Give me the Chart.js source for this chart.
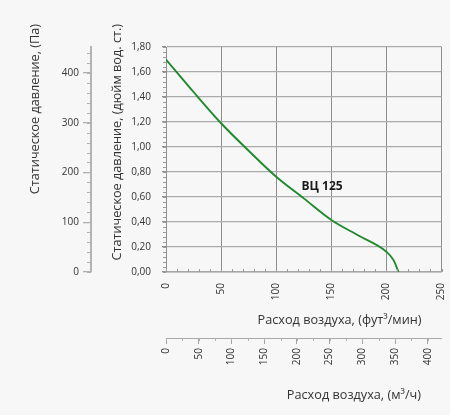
<!DOCTYPE html>
<html><head><meta charset="utf-8">
<script src="https://cdn.jsdelivr.net/npm/chart.js@4.4.1/dist/chart.umd.min.js"></script>
<style>html,body{margin:0;padding:0;background:#f7f7f7;} #wrap{width:450px;height:415px;position:relative;}</style>
</head><body><div id="wrap"><canvas id="c"></canvas></div>
<script>
// ---- data ----
const flowCfm      = [0, 25, 50, 75, 100, 125, 150, 175, 200, 206.5, 211];
const pressureInWc = [1.70, 1.44, 1.19, 0.97, 0.762, 0.589, 0.416, 0.29, 0.162, 0.095, 0.0];
const seriesName = 'ВЦ 125';
const seriesLabelAt = { x: 123, y: 0.68 };

// axis ranges and tick values
const cfmRange  = [0, 250];
const m3hRange  = [0, 421];
const inchRange = [0, 1.8];
const paRange   = [0, 452];
const cfmTicks  = [0, 50, 100, 150, 200, 250];
const m3hTicks  = [0, 50, 100, 150, 200, 250, 300, 350, 400];
const inchTicks = [0, 0.2, 0.4, 0.6, 0.8, 1.0, 1.2, 1.4, 1.6, 1.8];
const paTicks   = [0, 100, 200, 300, 400];
const cfmMinorStep = 10, m3hMinorStep = 25, inchMinorStep = 0.04, paMinorStep = 20;

const xTitle  = 'Расход воздуха, (фут³/мин)';
const x2Title = 'Расход воздуха, (м³/ч)';
const yTitle  = 'Статическое давление, (дюйм вод. ст.)';
const y2Title = 'Статическое давление, (Па)';

const FONT = '"Open Sans", "Noto Sans", sans-serif';
const TXT = '#333333';

function fixTicks(arr){ return s => { s.ticks = arr.map(v => ({ value: v })); }; }
function fixSize(dim, val){ return s => { s[dim] = val; s.paddingLeft = 0; s.paddingRight = 0; s.paddingTop = 0; s.paddingBottom = 0; }; }

const decor = {
  id: 'decor',
  beforeDraw(chart){
    const ctx = chart.ctx; ctx.save();
    ctx.fillStyle = '#f7f7f7'; ctx.fillRect(0, 0, chart.width, chart.height);
    ctx.restore();
  },
  afterDraw(chart){
    const { ctx, scales: { x, x2, y, y2 }, chartArea: ca } = chart;
    ctx.save();
    ctx.lineWidth = 1;
    // minor ticks
    ctx.strokeStyle = '#9a9a9a';
    ctx.beginPath();
    for (let v = cfmRange[0]; v <= cfmRange[1] + 1e-9; v += cfmMinorStep){
      const px = Math.round(x.getPixelForValue(v)) + 0.5;
      ctx.moveTo(px, ca.bottom); ctx.lineTo(px, ca.bottom - 3);
    }
    for (let v = inchRange[0]; v <= inchRange[1] + 1e-9; v += inchMinorStep){
      const py = Math.round(y.getPixelForValue(v)) + 0.5;
      ctx.moveTo(ca.left, py); ctx.lineTo(ca.left - 3, py);
    }
    ctx.stroke();
    ctx.strokeStyle = '#b0b0b0';
    ctx.beginPath();
    for (let v = m3hRange[0]; v <= m3hRange[1] + 1e-9; v += m3hMinorStep){
      const px = Math.round(x2.getPixelForValue(v)) + 0.5;
      ctx.moveTo(px, x2.top); ctx.lineTo(px, x2.top + 3);
    }
    for (let v = paRange[0]; v <= paRange[1] + 1e-9; v += paMinorStep){
      const py = Math.round(y2.getPixelForValue(v)) + 0.5;
      ctx.moveTo(y2.right, py); ctx.lineTo(y2.right - 4, py);
    }
    ctx.stroke();

    // axis titles
    ctx.fillStyle = TXT;
    ctx.font = '12.7px ' + FONT;
    ctx.textBaseline = 'middle';
    ctx.textAlign = 'right';
    ctx.fillText(xTitle, 421.5, 320);
    ctx.fillText(x2Title, 421, 395);
    ctx.save(); ctx.translate(35, 24); ctx.rotate(-Math.PI / 2); ctx.fillText(y2Title, 0, 0); ctx.restore();
    ctx.save(); ctx.translate(117, 24); ctx.rotate(-Math.PI / 2); ctx.fillText(yTitle, 0, 0); ctx.restore();

    // series label
    ctx.font = 'bold 12px ' + FONT;
    ctx.fillStyle = '#1a1a1a';
    ctx.textAlign = 'left';
    ctx.fillText(seriesName, x.getPixelForValue(seriesLabelAt.x), y.getPixelForValue(seriesLabelAt.y));
    ctx.restore();
  }
};

new Chart(document.getElementById('c'), {
  type: 'line',
  data: {
    datasets: [{
      label: seriesName,
      data: flowCfm.map((f, i) => ({ x: f, y: pressureInWc[i] })),
      borderColor: '#1f8a2e',
      borderWidth: 1.9,
      pointRadius: 0,
      fill: false,
      cubicInterpolationMode: 'monotone',
      xAxisID: 'x', yAxisID: 'y'
    }]
  },
  options: {
    responsive: true,
    maintainAspectRatio: false,
    animation: false,
    events: [],
    layout: { padding: { top: 47, right: 8.5, bottom: 0, left: 0 } },
    plugins: { legend: { display: false }, tooltip: { enabled: false }, title: { display: false } },
    scales: {
      x: {
        type: 'linear', position: 'bottom', weight: 0,
        min: cfmRange[0], max: cfmRange[1],
        afterBuildTicks: fixTicks(cfmTicks),
        afterFit: fixSize('height', 66),
        ticks: { minRotation: 90, maxRotation: 90, padding: 11, autoSkip: false, color: TXT, font: { family: FONT, size: 10 } },
        grid: { color: '#8e8e8e', lineWidth: 1, drawTicks: false },
        border: { color: '#a8a8a8', width: 1.5 }
      },
      x2: {
        type: 'linear', position: 'bottom', weight: 1,
        min: m3hRange[0], max: m3hRange[1],
        afterBuildTicks: fixTicks(m3hTicks),
        afterFit: fixSize('height', 77),
        ticks: { minRotation: 90, maxRotation: 90, padding: 4, autoSkip: false, color: TXT, font: { family: FONT, size: 10 } },
        grid: { drawOnChartArea: false, drawTicks: true, tickLength: 6, color: '#a0a0a0', lineWidth: 1 },
        border: { color: '#a8a8a8', width: 1 }
      },
      y: {
        type: 'linear', position: 'left', weight: 0,
        min: inchRange[0], max: inchRange[1],
        afterBuildTicks: fixTicks(inchTicks),
        afterFit: fixSize('width', 75),
        ticks: { padding: 11, autoSkip: false, color: TXT, font: { family: FONT, size: 10 },
                 callback: v => Number(v).toFixed(2).replace('.', ',') },
        grid: { color: '#ababab', lineWidth: 1.3, tickLength: 4, tickColor: '#909090' },
        border: { color: '#909090', width: 1 }
      },
      y2: {
        type: 'linear', position: 'left', weight: 1,
        min: paRange[0], max: paRange[1],
        afterBuildTicks: fixTicks(paTicks),
        afterFit: fixSize('width', 91),
        ticks: { padding: 4, autoSkip: false, color: TXT, font: { family: FONT, size: 10 } },
        grid: { drawOnChartArea: false, drawTicks: true, tickLength: 8, color: '#b0b0b0', lineWidth: 1.3 },
        border: { color: '#b4b4b4', width: 2 }
      }
    }
  },
  plugins: [decor]
});
</script>
</body></html>
